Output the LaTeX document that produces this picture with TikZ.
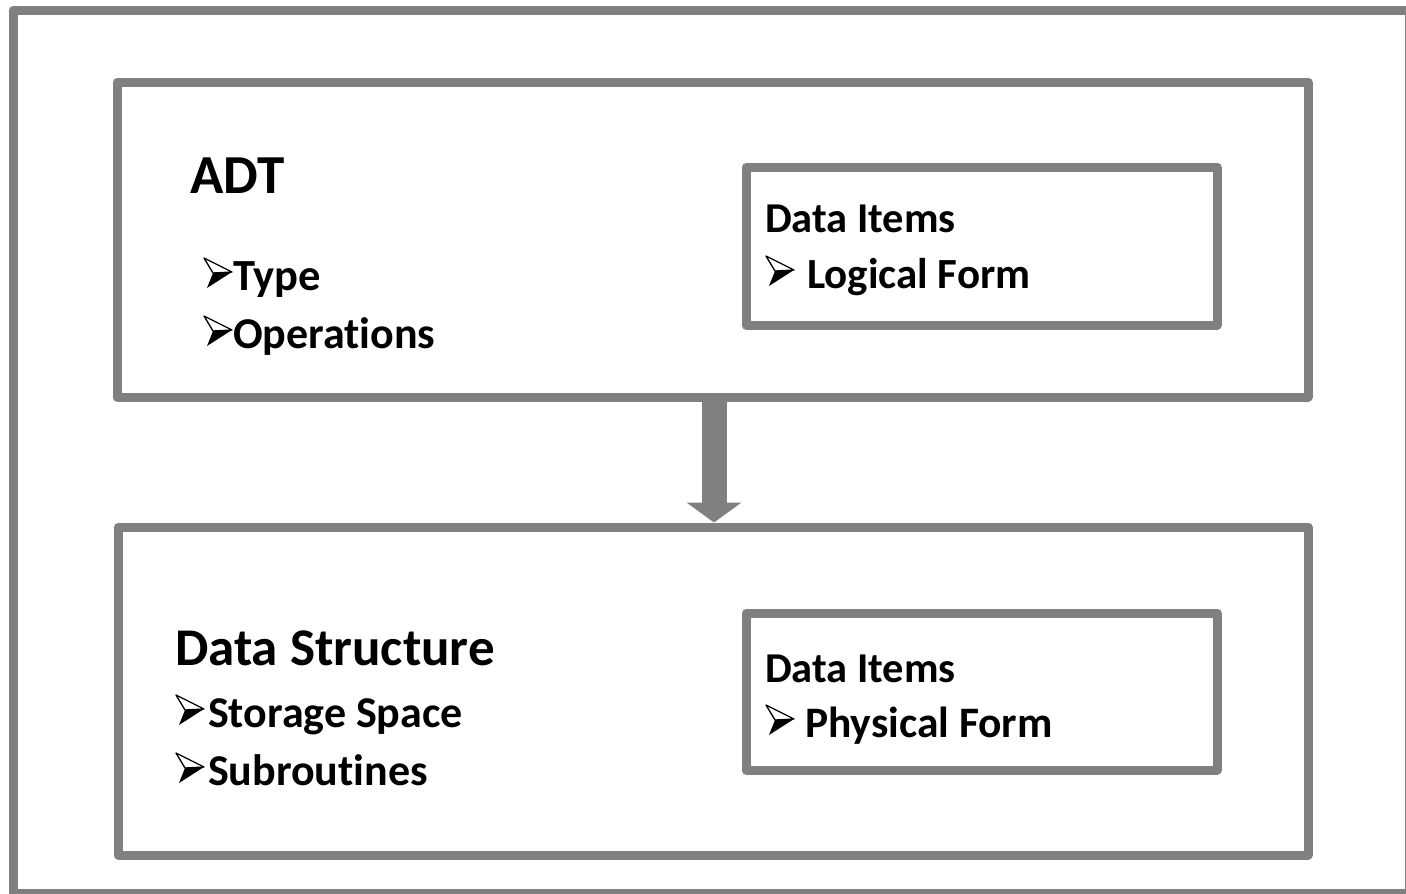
\documentclass[tikz,border=0pt]{standalone}
\usepackage{fontspec}
\setmainfont{Carlito}[Ligatures=NoCommon]
\usetikzlibrary{arrows.meta}
\definecolor{framegray}{RGB}{128,128,128}
\tikzset{
  x=1pt, y=-1pt,
  panel/.style={draw=framegray, line width=9pt, line join=round, inner sep=0pt, fill=none},
  label/.style={anchor=base west, inner sep=0pt, outer sep=0pt, text=black},
  % 3D arrowhead bullet; origin = left end of the text baseline
  arrowbullet/.pic={
    \filldraw[fill=white, draw=black, line width=1.3pt, line join=round]
      (1,-32) -- (29,-18) -- (10,-17) -- cycle;
    \fill[black] (10,-17) -- (29,-18) -- (4,-2) -- cycle;
  },
}
\newcommand{\fs}[1]{\fontsize{#1}{#1}\selectfont\bfseries}
\begin{document}
\begin{tikzpicture}
\useasboundingbox (0,0) rectangle (1406,894);
\fill[white] (0,0) rectangle (1406,894);
% outer frame
\draw[draw=framegray, line width=9pt, line join=round] (13.5,10) rectangle (1409,893);

% the two main panels
\node[panel, minimum width=1191pt, minimum height=315pt] (adt) at (712.5,239.5) {};
\node[panel, minimum width=1190pt, minimum height=328pt] (ds) at (713,691) {};

% data item boxes
\node[panel, minimum width=471pt, minimum height=158pt] (items1) at (981.5,246) {};
\node[panel, minimum width=471pt, minimum height=157pt] (items2) at (981.5,691.5) {};

% link between the panels
\coordinate (linktop) at (714,397);
\coordinate (linkbot) at (714,522.5);
\draw[draw=framegray, line width=25pt, -{Triangle[width=54pt,length=20pt]}] (linktop) -- (linkbot);

% ADT panel text
\node[label] (adtT) at (190,193) {\fs{55}ADT};
\pic at (203,290) {arrowbullet};
\node[label] (adt1) at (233,290) {\fs{44.5}Type};
\pic at (203,348) {arrowbullet};
\node[label] (adt2) at (233,348) {\fs{44}Operations};

\node[label] (i1a) at (765,232) {\fs{42.5}Data Items};
\pic at (765,288) {arrowbullet};
\node[label] (i1b) at (807,288) {\fs{43}Logical Form};

% Data structure panel text
\node[label] (dsT) at (175,665) {\fs{53}Data Structure};
\pic at (175,727) {arrowbullet};
\node[label] (ds1) at (208,727) {\fs{44}Storage Space};
\pic at (175,785) {arrowbullet};
\node[label] (ds2) at (208,785) {\fs{44}Subroutines};

\node[label] (i2a) at (765,682) {\fs{42.5}Data Items};
\pic at (765,737) {arrowbullet};
\node[label] (i2b) at (805,737) {\fs{43.5}Physical Form};
\end{tikzpicture}
\end{document}
